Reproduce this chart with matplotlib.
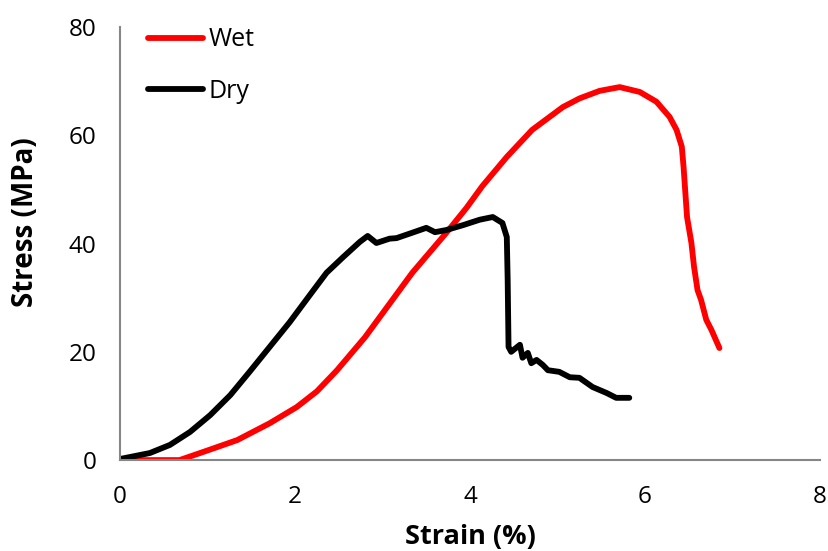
import matplotlib
matplotlib.use("Agg")
import matplotlib.pyplot as plt

plt.rcParams['font.family'] = ['Open Sans', 'DejaVu Sans']

# Dry specimen (black)
dry_strain = [0.0, 0.34, 0.57, 0.80, 1.03, 1.26, 1.48, 1.71, 1.94, 2.17, 2.36, 2.55,
              2.74, 2.83, 2.93, 3.08, 3.16, 3.34, 3.50, 3.60, 3.73, 3.92, 4.11, 4.26,
              4.37, 4.42, 4.43, 4.44, 4.47, 4.57, 4.60, 4.66, 4.70, 4.76, 4.83, 4.89,
              5.02, 5.14, 5.25, 5.40, 5.56, 5.67, 5.82]
dry_stress = [0.2, 1.3, 2.8, 5.2, 8.3, 12.0, 16.3, 20.9, 25.5, 30.5, 34.6, 37.5,
              40.3, 41.4, 40.1, 40.9, 41.0, 42.0, 42.9, 42.1, 42.5, 43.4, 44.4, 44.9,
              43.8, 41.2, 33.3, 20.9, 20.0, 21.3, 18.9, 19.8, 17.9, 18.5, 17.6, 16.6,
              16.3, 15.3, 15.2, 13.5, 12.4, 11.5, 11.5]

# Wet specimen (red)
wet_strain = [0.0, 0.68, 0.95, 1.34, 1.71, 2.02, 2.25, 2.48, 2.80, 3.34, 3.73, 3.96,
              4.14, 4.42, 4.71, 5.06, 5.25, 5.48, 5.71, 5.94, 6.13, 6.28,
              6.36, 6.42, 6.44, 6.48, 6.53, 6.56, 6.60, 6.64, 6.70, 6.76, 6.85]
wet_stress = [0.0, 0.0, 1.5, 3.7, 6.8, 9.8, 12.7, 16.6, 22.7, 34.6, 42.0, 46.6,
              50.6, 56.0, 61.0, 65.2, 66.8, 68.2, 68.9, 68.0, 66.2, 63.4,
              61.0, 57.9, 54.2, 44.9, 40.1, 35.7, 31.4, 29.6, 25.9, 24.0, 20.7]

x_ticks = [0, 2, 4, 6, 8]
y_ticks = [0, 20, 40, 60, 80]

fig = plt.figure(figsize=(8.29, 5.51), dpi=100)
ax = fig.add_axes([0.1448, 0.165, 0.8444, 0.786])

ax.plot(wet_strain, wet_stress, color='#ff0000', lw=4.2, label='Wet',
        solid_capstyle='round', solid_joinstyle='round')
ax.plot(dry_strain, dry_stress, color='black', lw=4.2, label='Dry',
        solid_capstyle='round', solid_joinstyle='round')

ax.set_xlim(0, 8)
ax.set_ylim(0, 80)
ax.set_xticks(x_ticks)
ax.set_yticks(y_ticks)
ax.tick_params(axis='both', length=0, labelsize=17.5)
ax.tick_params(axis='x', pad=18)
ax.tick_params(axis='y', pad=17)
for s in ['top', 'right']:
    ax.spines[s].set_visible(False)
for s in ['left', 'bottom']:
    ax.spines[s].set_color('#868686')
    ax.spines[s].set_linewidth(1.5)

ax.set_xlabel('Strain (%)', fontsize=19.5, fontweight='bold', labelpad=10.5)
ax.set_ylabel('Stress (MPa)', fontsize=20, fontweight='bold')
ax.yaxis.set_label_coords(-0.114, 0.55)

leg = ax.legend(loc='upper left', bbox_to_anchor=(0.008, 1.051), frameon=False,
                fontsize=18, handlelength=2.2, handletextpad=0.2, labelspacing=1.06)

fig.savefig('out.png', dpi=100)
